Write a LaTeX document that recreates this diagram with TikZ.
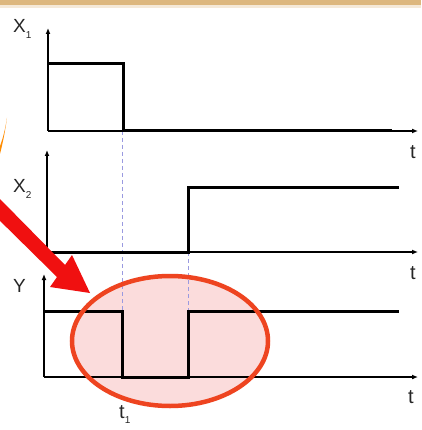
\documentclass[tikz,border=0pt]{standalone}
\usepackage{fontspec}
\setmainfont{Liberation Sans}
\usetikzlibrary{arrows.meta}
\definecolor{bandc}{HTML}{DDB77E}
\definecolor{ellc}{HTML}{EE4420}
\definecolor{ellfill}{HTML}{FBDCDC}
\definecolor{arrc}{HTML}{F01010}
\definecolor{dashc}{HTML}{9A9AE0}
\newcommand{\subs}[1]{\raisebox{-0.5ex}{\fontsize{10}{10}\selectfont #1}}
\begin{document}
\begin{tikzpicture}[x=1pt,y=-1pt,
  axis/.style={line width=1.5pt,-{Latex[length=6pt,width=5pt]}},
  sig/.style={line width=3pt,line join=miter},
  guide/.style={dashc,line width=1pt,dash pattern=on 4pt off 3pt},
  lbl/.style={font=\fontsize{19}{19}\selectfont,inner sep=0pt,text=black!85},
  tlbl/.style={font=\fontsize{20}{20}\selectfont,inner sep=0pt,text=black!85}]
\useasboundingbox (0,0) rectangle (421,430);
\fill[white] (0,0) rectangle (421,430);
% top band
\fill[bandc] (0,0) rectangle (421,5);
\fill[bandc!30] (0,5) rectangle (421,8);
% orange sliver
\fill[orange!90!yellow] (0,146) .. controls (3,138) and (5,130) .. (7,118) .. controls (5,132) and (3,142) .. (0,154) -- cycle;
% ellipse fill
\fill[ellfill] (170,341) ellipse [x radius=98,y radius=65];
% guides
\coordinate (g1a) at (122,131); \coordinate (g1b) at (122,377);
\coordinate (g2a) at (188,252); \coordinate (g2b) at (188,311);
\draw[guide] (g1a) -- (g1b);
\draw[guide] (g2a) -- (g2b);
% X1
\coordinate (o1) at (48,131);
\draw[axis] (o1) -- (48,28);
\draw[axis] (o1) -- (418,131);
\draw[sig] (48,64) -- (123,64) -- (123,131) -- (392,131);
\node[lbl,anchor=base west] (x1) at (13,33) {X\subs{1}};
\node[tlbl,anchor=base] (t1l) at (413,159) {t};
% X2
\coordinate (o2) at (47,252);
\draw[axis] (o2) -- (47,150);
\draw[axis] (o2) -- (418,252);
\draw[sig] (47,252) -- (188,252) -- (188,188) -- (399,188);
\node[lbl,anchor=base west] (x2) at (13,193) {X\subs{2}};
\node[tlbl,anchor=base] (t2l) at (413,279) {t};
% Y
\coordinate (o3) at (44,377);
\draw[axis] (o3) -- (44,274);
\draw[axis] (o3) -- (418,377);
\draw[sig] (44,311) -- (122,311) -- (122,377) -- (188,377) -- (188,311) -- (399,311);
\node[lbl,anchor=base west] (yl) at (13,292) {Y};
\node[tlbl,anchor=base] (t3l) at (411,403) {t};
\node[tlbl,anchor=base west] (t1) at (119,418) {t\subs{1}};
% ellipse outline
\draw[ellc,line width=4.5pt] (170,341) ellipse [x radius=98,y radius=65];
% red arrow
\fill[arrc] (-1,198) -- (65,265) -- (72,255) -- (90,293) -- (50,287) -- (57,277) -- (-10,211) -- cycle;
\end{tikzpicture}
\end{document}
